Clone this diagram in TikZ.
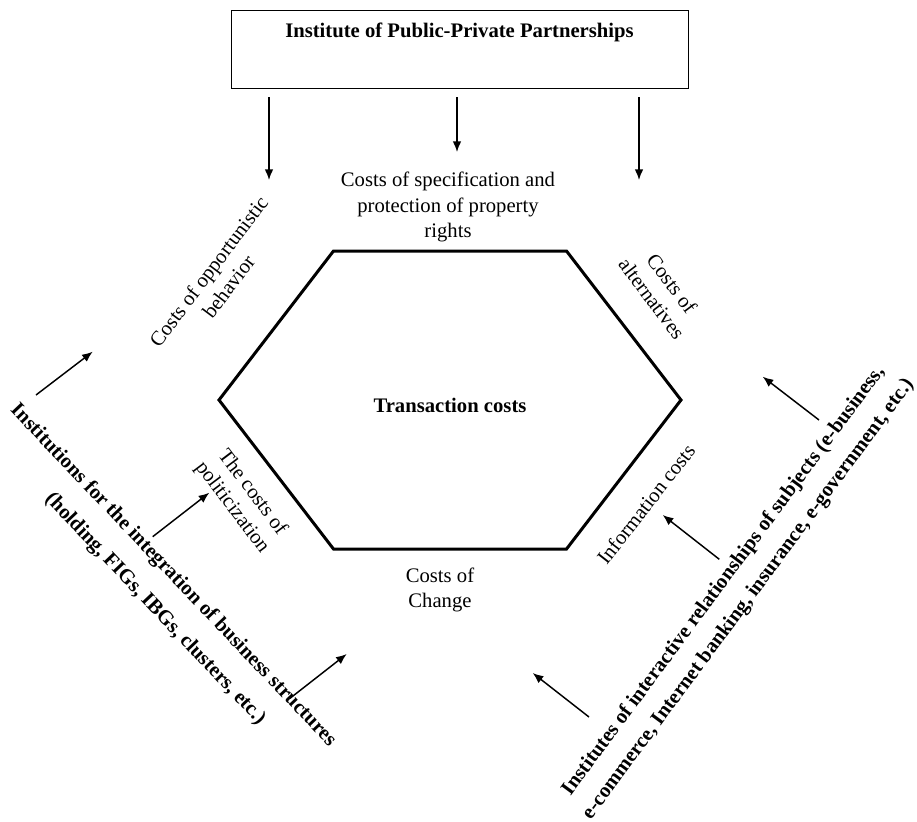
\documentclass[tikz,border=0pt]{standalone}
\usepackage{fontspec}
\setmainfont{Liberation Serif}
\usepackage{tikz}
\usetikzlibrary{shapes,
                arrows,
                arrows.meta,
                positioning}
\tikzset{titlebox/.style =
   {rectangle,
    draw,
    line width=0.75pt,
    minimum width=342.75pt,
    minimum height=58.5pt}}
\tikzset{costlabel/.style =
   {align=center,
    inner sep=1pt,
    font=\fontsize{15.5}{18.8}\selectfont}}
\tikzset{instlabel/.style =
   {align=center,
    inner sep=1pt,
    font=\fontsize{15.5}{23}\selectfont\bfseries}}
\tikzset{hexline/.style = {draw, line width=2.25pt, line join=miter}}
\tikzset{arrow/.style = {draw, line width=1.1pt, -{Latex[length=8pt, width=6.5pt]}}}

\begin{document}
\begin{tikzpicture}[x=0.75pt, y=-0.75pt]

    \useasboundingbox (0,0) rectangle (917,821);

    % top institute
    \node [titlebox,
           label={[font=\fontsize{15.5}{18.8}\selectfont\bfseries,
                   anchor=center, yshift=-17.25pt]north:{Institute of Public-Private Partnerships}}]
          (ipp) at (459.5,49) {};

    % hexagon of transaction costs
    \coordinate (hexN1) at (333.5,251);
    \coordinate (hexN2) at (566.5,251);
    \coordinate (hexE)  at (681,400);
    \coordinate (hexS2) at (566.5,549);
    \coordinate (hexS1) at (333.5,549);
    \coordinate (hexW)  at (219,400);
    \draw [hexline] (hexN1) -- (hexN2) -- (hexE) -- (hexS2) -- (hexS1) -- (hexW) -- cycle;

    \node [costlabel, font=\fontsize{15.5}{18.8}\selectfont\bfseries] (trans) at (450,405)
    {Transaction costs};

    % kinds of costs
    \node [costlabel] (spec) at (448,207)
    {Costs of specification and\\protection of property\\rights};
    \node [costlabel] (change) at (440,590)
    {Costs of\\Change};
    \node [costlabel, rotate=53] (opport) at (218.5,279)
    {Costs of opportunistic\\behavior};
    \node [costlabel, rotate=-53] (altern) at (662,291)
    {Costs of\\alternatives};
    \node [costlabel, rotate=-53] (politic) at (242,500)
    {The costs of\\politicization};
    \node [costlabel, rotate=52] (info) at (646,504)
    {Information costs};

    % institutions
    \node [instlabel, font=\fontsize{15.5}{27}\selectfont\bfseries, rotate=-46.5] (integr) at (160,588)
    {Institutions for the integration of business structures\\\hspace*{18pt}(holding, FIGs, IBGs, clusters, etc.)};
    \node [instlabel, rotate=53.5] (interact) at (736,590)
    {Institutes of interactive relationships of subjects (e-business,\\e-commerce, Internet banking, insurance, e-government, etc.)};

    % arrow ends
    \coordinate (top1s) at (269,97);    \coordinate (top1e) at (269,180);
    \coordinate (top2s) at (457,97);    \coordinate (top2e) at (457,152);
    \coordinate (top3s) at (639,97);    \coordinate (top3e) at (639,180);
    \coordinate (left1s) at (36,395);     \coordinate (left1e) at (92.7,351.7);
    \coordinate (left2s) at (152.7,536.7); \coordinate (left2e) at (209.3,492.7);
    \coordinate (left3s) at (290,698.3);  \coordinate (left3e) at (346.7,654);
    \coordinate (right1s) at (819,420);    \coordinate (right1e) at (762.7,376.7);
    \coordinate (right2s) at (719.3,559.3); \coordinate (right2e) at (662.7,515);
    \coordinate (right3s) at (589,717);    \coordinate (right3e) at (532.7,673);

    \path [arrow] (top1s) -- (top1e);
    \path [arrow] (top2s) -- (top2e);
    \path [arrow] (top3s) -- (top3e);
    \path [arrow] (left1s) -- (left1e);
    \path [arrow] (left2s) -- (left2e);
    \path [arrow] (left3s) -- (left3e);
    \path [arrow] (right1s) -- (right1e);
    \path [arrow] (right2s) -- (right2e);
    \path [arrow] (right3s) -- (right3e);

\end{tikzpicture}
\end{document}
